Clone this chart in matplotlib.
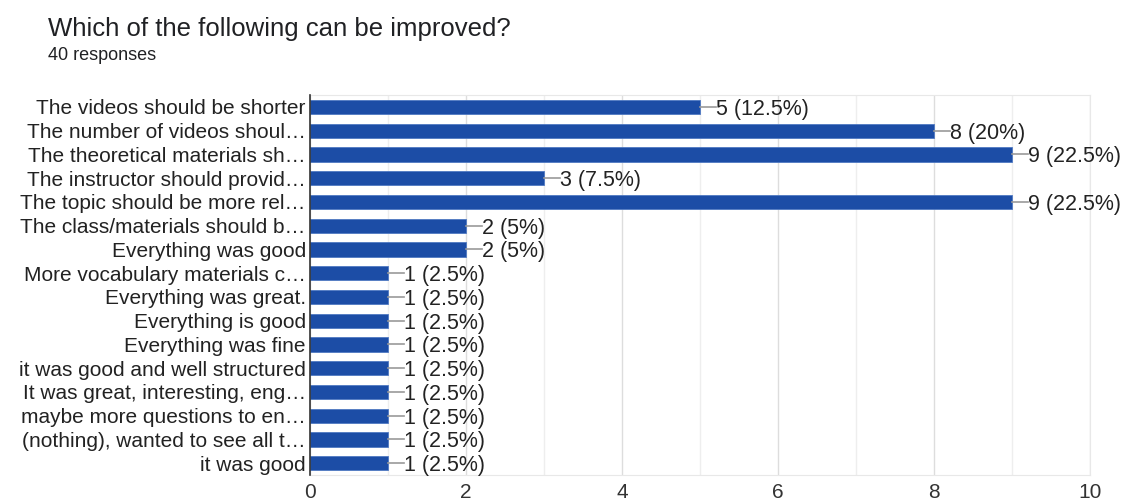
import matplotlib
matplotlib.use("Agg")
import matplotlib.pyplot as plt
from matplotlib.ticker import MultipleLocator

categories = [
    "The videos should be shorter",
    "The number of videos shoul…",
    "The theoretical materials sh…",
    "The instructor should provid…",
    "The topic should be more rel…",
    "The class/materials should b…",
    "Everything was good",
    "More vocabulary materials c…",
    "Everything was great.",
    "Everything is good",
    "Everything was fine",
    "it was good and well structured",
    "It was great, interesting, eng…",
    "maybe more questions to en…",
    "(nothing), wanted to see all t…",
    "it was good",
]
counts = [5, 8, 9, 3, 9, 2, 2, 1, 1, 1, 1, 1, 1, 1, 1, 1]
percents = ["12.5%", "20%", "22.5%", "7.5%", "22.5%", "5%", "5%",
            "2.5%", "2.5%", "2.5%", "2.5%", "2.5%", "2.5%", "2.5%", "2.5%", "2.5%"]
x_ticks = [0, 2, 4, 6, 8, 10]
title = "Which of the following can be improved?"
subtitle = "40 responses"

plt.rcParams['font.family'] = ['Liberation Sans', 'DejaVu Sans']

W, H = 1125, 503
fig = plt.figure(figsize=(W / 100, H / 100), dpi=100)
ax = fig.add_axes([310 / W, 1 - 475 / H, 780 / W, 380 / H])

bar_color = "#1c4da6"
ypos = list(range(len(categories)))
ax.barh(ypos, counts, height=0.6, color=bar_color, edgecolor="#4f79c2", linewidth=0.6, zorder=3)
ax.set_ylim(len(categories) - 0.5, -0.5)
ax.set_xlim(0, 10)
ax.set_yticks(ypos)
ax.set_yticklabels(categories, fontsize=15, color="#222222")
ax.set_xticks(x_ticks)
ax.set_xticklabels([str(t) for t in x_ticks], fontsize=15, color="#333333")
ax.xaxis.set_minor_locator(MultipleLocator(1))
ax.tick_params(axis='y', length=0, pad=3)
ax.tick_params(axis='x', which='both', length=0, pad=6)
ax.grid(axis='x', which='major', color="#dddddd", linewidth=1, zorder=0)
ax.grid(axis='x', which='minor', color="#eeeeee", linewidth=1, zorder=0)

for s in ['top', 'right', 'bottom']:
    ax.spines[s].set_color("#e8e8e8")
ax.spines['left'].set_color("#333333")
ax.spines['left'].set_linewidth(1.2)
ax.spines['left'].set_zorder(4)

for y, c, p in zip(ypos, counts, percents):
    ax.plot([c, c + 0.2], [y, y], color="#999999", linewidth=1.2, zorder=3, clip_on=False)
    ax.text(c + 0.21, y, f"{c} ({p})", va='center_baseline', ha='left', fontsize=15.5,
            color="#222222", clip_on=False, zorder=4)

fig.text(48 / W, 1 - 29 / H, title, fontsize=18.5, color="#202124", va='center', ha='left')
fig.text(48 / W, 1 - 56 / H, subtitle, fontsize=13, color="#202124", va='center', ha='left')

fig.savefig("out.png", dpi=100)
